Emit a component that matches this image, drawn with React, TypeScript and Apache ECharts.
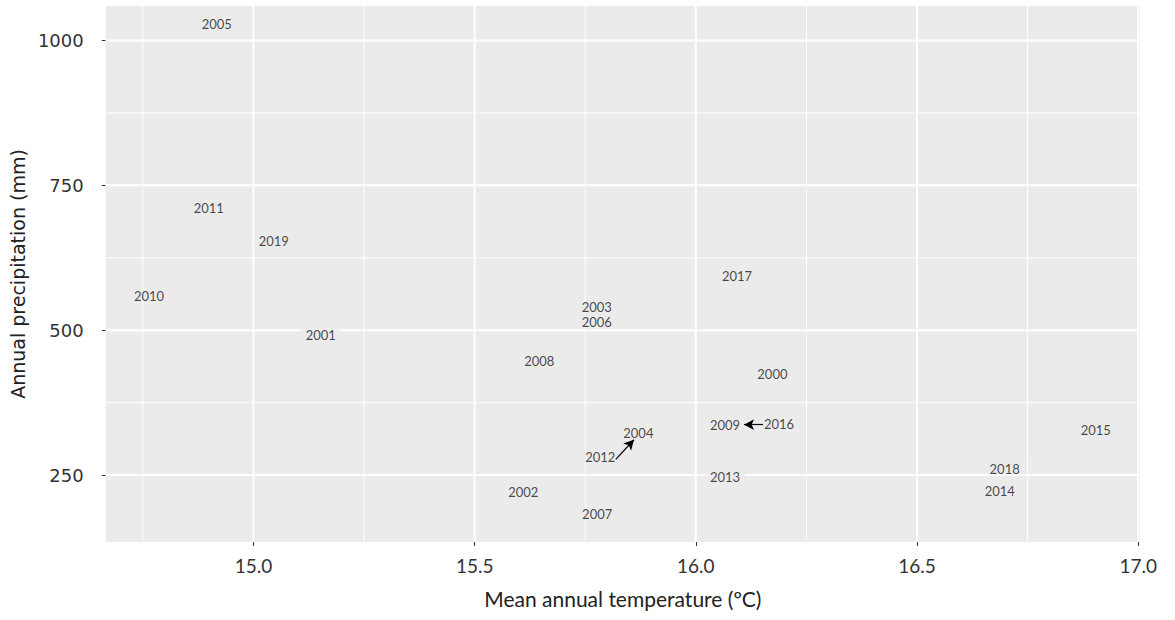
import React, { useEffect, useRef } from "react";
import * as echarts from "echarts";

const years = ["2005", "2011", "2019", "2010", "2001", "2003", "2006", "2008", "2017", "2000", "2009", "2016", "2004", "2012", "2013", "2002", "2007", "2015", "2018", "2014"];
const temperature = [14.917, 14.899, 15.046, 14.764, 15.152, 15.776, 15.776, 15.646, 16.093, 16.173, 16.066, 16.188, 15.870, 15.784, 16.066, 15.610, 15.777, 16.904, 16.698, 16.687];
const precipitation = [1028, 711, 654, 559, 492, 540, 515, 447, 594, 425, 337, 339, 323, 282, 247, 220, 182, 328, 261, 222];

const xTicks = [15.0, 15.5, 16.0, 16.5, 17.0];
const xMinor = [14.75, 15.25, 15.75, 16.25, 16.75];
const yTicks = [250, 500, 750, 1000];
const yMinor = [375, 625, 875];

const X_MIN = 14.666;
const X_MAX = 17.004;
const Y_MIN = 134.5;
const Y_MAX = 1059.5;

// repel arrows: [fromTemp, fromPrecip, toTemp, toPrecip]
const arrows = [
  [15.819, 277, 15.860, 311],
  [16.152, 337, 16.109, 337],
];

export default function App() {
  const ref = useRef<HTMLDivElement>(null);
  useEffect(() => {
    if (!ref.current) return;
    const chart = echarts.init(ref.current, null, { renderer: "svg" });
    const gridSeries: any[] = [];
    const addLine = (data: number[][], width: number) =>
      gridSeries.push({
        type: "line",
        data,
        z: 1,
        silent: true,
        symbol: "none",
        lineStyle: { color: "#FFFFFF", width },
      });
    xTicks.forEach((v) => addLine([[v, Y_MIN], [v, Y_MAX]], 2));
    xMinor.forEach((v) => addLine([[v, Y_MIN], [v, Y_MAX]], 1));
    yTicks.forEach((v) => addLine([[X_MIN, v], [X_MAX, v]], 2));
    yMinor.forEach((v) => addLine([[X_MIN, v], [X_MAX, v]], 1));

    chart.setOption({
      animation: false,
      grid: {
        left: 104,
        right: 35,
        top: 6,
        bottom: 78,
        show: true,
        backgroundColor: "#EBEBEB",
        borderWidth: 0,
      },
      xAxis: {
        type: "value",
        min: X_MIN,
        max: X_MAX,
        name: "Mean annual temperature (\u00BAC)",
        nameLocation: "middle",
        nameGap: 46,
        nameTextStyle: { fontFamily: "Lato", fontSize: 21, color: "#222" },
        axisLine: { show: false },
        splitLine: { show: false },
        axisTick: { show: true, length: 4, lineStyle: { color: "#333" }, customValues: xTicks },
        axisLabel: {
          customValues: xTicks,
          formatter: (v: number) => v.toFixed(1),
          fontFamily: "Lato",
          fontSize: 19,
          color: "#333",
          margin: 14,
        },
      },
      yAxis: {
        type: "value",
        min: Y_MIN,
        max: Y_MAX,
        name: "Annual precipitation (mm)",
        nameLocation: "middle",
        nameGap: 76,
        nameRotate: 90,
        nameTextStyle: { fontFamily: "DejaVu Sans", fontSize: 19, color: "#222" },
        axisLine: { show: false },
        splitLine: { show: false },
        axisTick: { show: true, length: 4, lineStyle: { color: "#333" }, customValues: yTicks },
        axisLabel: {
          customValues: yTicks,
          formatter: (v: number) => String(v),
          fontFamily: "DejaVu Sans",
          fontSize: 18,
          color: "#333",
          margin: 22,
        },
      },
      series: [
        ...gridSeries,
        {
          type: "scatter",
          z: 3,
          symbolSize: 1,
          itemStyle: { color: "rgba(0,0,0,0)" },
          data: years.map((y, i) => ({ name: y, value: [temperature[i], precipitation[i]] })),
          label: {
            show: true,
            position: "inside",
            formatter: (p: any) => p.name,
            fontFamily: "Lato",
            fontSize: 13,
            lineHeight: 11,
            color: "#1a1a1a",
            backgroundColor: "#EBEBEB",
            padding: [0, 5],
          },
          markLine: {
            silent: true,
            symbol: ["none", "arrow"],
            symbolSize: [8, 10],
            label: { show: false },
            lineStyle: { color: "#000", width: 1.2, type: "solid" },
            data: arrows.map((a) => [{ coord: [a[0], a[1]] }, { coord: [a[2], a[3]] }]),
          },
        },
      ],
    });
    return () => chart.dispose();
  }, []);
  return (
    <div
      ref={ref}
      style={{ position: "absolute", left: 0, top: 0, width: 1175, height: 620, background: "#fff" }}
    />
  );
}
